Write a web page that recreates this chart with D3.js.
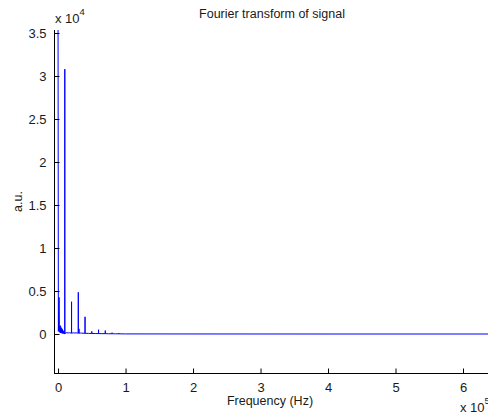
<!DOCTYPE html>
<html>
<head>
<meta charset="utf-8">
<script src="https://cdn.jsdelivr.net/npm/d3@7"></script>
<style>
  html, body { margin: 0; padding: 0; background: #fff; }
  svg { display: block; }
  text { font-family: "Liberation Sans", Arial, sans-serif; fill: #1a1a1a; }
</style>
</head>
<body>
<svg id="chart" width="488" height="418"></svg>
<script>
// ---- data ----
const title = "Fourier transform of signal";
const xLabel = "Frequency (Hz)";
const yLabel = "a.u.";
const xTicks = [0, 1e5, 2e5, 3e5, 4e5, 5e5, 6e5];
const xTickLabels = ["0", "1", "2", "3", "4", "5", "6"];
const yTicks = [0, 5000, 10000, 15000, 20000, 25000, 30000, 35000];
const yTickLabels = ["0", "0.5", "1", "1.5", "2", "2.5", "3", "3.5"];
const xDomain = [-6000, 640000];
const yDomain = [-4535, 35350];

const freqHz = [
  0, 500, 1500, 2000, 2500, 3000, 3500, 4000, 4500, 5000, 5500, 6000, 6500, 7000, 7500, 8000, 8500, 9000, 9500,
  9900, 10000, 10100, 12000, 15000, 17000,
  19900, 20000, 20100, 23000, 25000, 27000,
  29900, 30000, 30100, 30900, 31000, 31100, 33000, 35000,
  39900, 40000, 40100, 45000,
  49900, 50000, 50100, 55000,
  59900, 60000, 60100, 65000,
  69900, 70000, 70100, 75000,
  79900, 80000, 80100, 85000,
  89900, 90000, 90100, 100000, 200000, 400000, 640000
];
const magnitude = [
  35350, 300, 4250, 950, 200, 1000, 150, 850, 120, 700, 100, 600, 80, 450, 60, 320, 50, 220, 40,
  30, 30800, 30, 160, 120, 150,
  100, 3750, 100, 140, 110, 130,
  100, 4850, 100, 100, 600, 100, 110, 100,
  80, 2000, 80, 70,
  60, 300, 60, 50,
  50, 500, 50, 40,
  40, 400, 40, 30,
  30, 150, 30, 20,
  20, 100, 20, 10, 5, 0, 0
];

// ---- layout ----
const svg = d3.select("#chart");
const mLeft = 54, mRight = 490, mTop = 30, mBottom = 373;
const x = d3.scaleLinear().domain(xDomain).range([mLeft, mRight]);
const y = d3.scaleLinear().domain(yDomain).range([mBottom, mTop]);

// data line
const pts = freqHz.map((f, i) => [f, magnitude[i]]);
svg.append("path")
  .datum(pts)
  .attr("fill", "none")
  .attr("stroke", "#0000ff")
  .attr("stroke-width", 1)
  .attr("d", d3.line().x(d => x(d[0])).y(d => y(d[1])));

// axes (MATLAB-style inward ticks)
const xAxis = d3.axisBottom(x).tickValues(xTicks)
  .tickFormat((d, i) => xTickLabels[i]).tickSizeInner(-5).tickSizeOuter(0).tickPadding(9);
const gx = svg.append("g").attr("transform", `translate(0,${mBottom + 0.5})`).call(xAxis);
gx.select(".domain").attr("stroke", "#000").attr("d", `M${mLeft},0H${mRight}`);
gx.selectAll(".tick line").attr("stroke", "#000");
gx.selectAll(".tick text").attr("font-size", 13).attr("font-family", "Liberation Sans, Arial, sans-serif").attr("fill", "#1a1a1a");

const yAxis = d3.axisLeft(y).tickValues(yTicks)
  .tickFormat((d, i) => yTickLabels[i]).tickSizeInner(-5).tickSizeOuter(0).tickPadding(8);
const gy = svg.append("g").attr("transform", `translate(${mLeft + 0.5},0)`).call(yAxis);
gy.select(".domain").attr("stroke", "#000").attr("d", `M0,${mTop}V${mBottom + 0.5}`);
gy.selectAll(".tick line").attr("stroke", "#000");
gy.selectAll(".tick text").attr("font-size", 13).attr("font-family", "Liberation Sans, Arial, sans-serif").attr("fill", "#1a1a1a");

// title
svg.append("text").attr("x", 272).attr("y", 18).attr("text-anchor", "middle")
  .attr("font-size", 12.5).text(title);

// x label
svg.append("text").attr("x", 270).attr("y", 405).attr("text-anchor", "middle")
  .attr("font-size", 12.5).text(xLabel);

// y label
svg.append("text").attr("transform", `translate(22,${(mTop + mBottom) / 2}) rotate(-90)`)
  .attr("text-anchor", "middle").attr("font-size", 12.5).text(yLabel);

// exponent labels
const ex = svg.append("text").attr("x", 55).attr("y", 23).attr("font-size", 13);
ex.append("tspan").text("x 10");
ex.append("tspan").attr("font-size", 9.5).attr("dy", -8).text("4");

const ex5 = svg.append("text").attr("x", 460).attr("y", 412).attr("font-size", 13);
ex5.append("tspan").text("x 10");
ex5.append("tspan").attr("font-size", 9.5).attr("dy", -8).text("5");
</script>
</body>
</html>
